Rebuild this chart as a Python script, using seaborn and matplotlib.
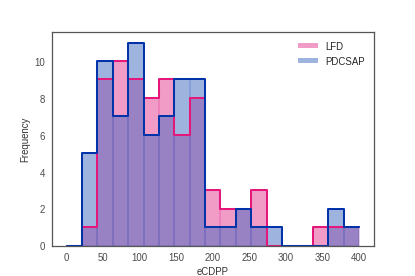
import numpy as np
import pandas as pd
import matplotlib
matplotlib.use("Agg")
import matplotlib.pyplot as plt
import seaborn as sns

# bin edges (0..400, 19 bins) and counts
n_bins = 19
bin_range = (0, 400)
lfd_counts = [0, 1, 9, 10, 9, 8, 9, 6, 8, 3, 2, 2, 3, 0, 0, 0, 1, 1, 1]
pdcsap_counts = [0, 5, 10, 7, 11, 6, 7, 9, 9, 1, 1, 2, 1, 1, 0, 0, 0, 2, 1]

edges = np.linspace(bin_range[0], bin_range[1], n_bins + 1)
centers = (edges[:-1] + edges[1:]) / 2
df = pd.concat([
    pd.DataFrame({"eCDPP": centers, "n": lfd_counts, "src": "LFD"}),
    pd.DataFrame({"eCDPP": centers, "n": pdcsap_counts, "src": "PDCSAP"}),
])

sns.set_style("white")
plt.rcParams['font.family'] = ['Liberation Sans', 'DejaVu Sans']

fig, ax = plt.subplots(figsize=(6, 4), dpi=69.2)

fill_cols = {"LFD": "#e33a90", "PDCSAP": "#4169c1"}
edge_cols = {"LFD": "#e6177a", "PDCSAP": "#0033aa"}

for name in ["LFD", "PDCSAP"]:
    d = df[df.src == name]
    sns.histplot(data=d, x="eCDPP", weights="n", bins=n_bins, binrange=bin_range,
                 element="bars", color=fill_cols[name], alpha=0.5,
                 edgecolor=fill_cols[name], linewidth=0.3, label=name, ax=ax)
for name in ["LFD", "PDCSAP"]:
    d = df[df.src == name]
    sns.histplot(data=d, x="eCDPP", weights="n", bins=n_bins, binrange=bin_range,
                 element="step", fill=False, color=edge_cols[name],
                 linewidth=2.1, ax=ax)

ax.set_xlabel("eCDPP", fontsize=10, color="#333333")
ax.set_ylabel("Frequency", fontsize=10, color="#333333")
ax.set_xticks(np.arange(0, 401, 50))
ax.tick_params(labelsize=10, colors="#4a4a4a")
for s in ax.spines.values():
    s.set_color("#555555")
    s.set_linewidth(1.3)
leg = ax.legend(frameon=False, loc="upper right", fontsize=10,
                handleheight=0.45, handlelength=2.0)
for h in leg.legend_handles:
    h.set_edgecolor("none")

plt.savefig("out.png", dpi=69.2)
